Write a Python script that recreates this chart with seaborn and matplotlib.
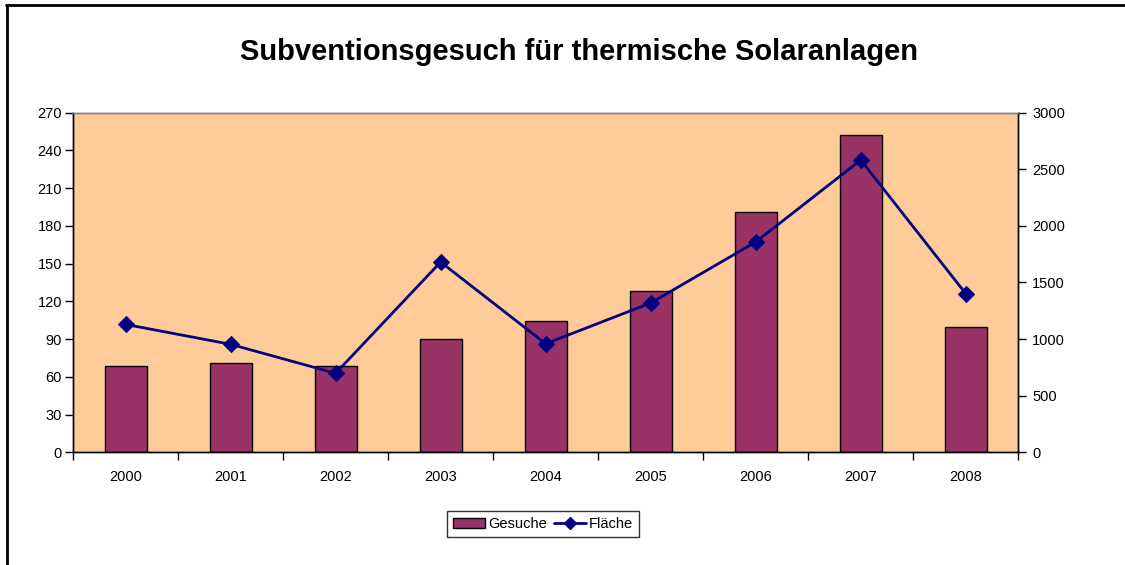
import numpy as np
import pandas as pd
import matplotlib
matplotlib.use("Agg")
import matplotlib.pyplot as plt
import seaborn as sns
from matplotlib.patches import Patch
from matplotlib.lines import Line2D

years = ["2000", "2001", "2002", "2003", "2004", "2005", "2006", "2007", "2008"]
gesuche = [69, 71, 69, 90, 104, 128, 191, 252, 100]
flaeche = [1130, 954, 698, 1681, 959, 1319, 1858, 2582, 1401]
left_ticks = [0, 30, 60, 90, 120, 150, 180, 210, 240, 270]
right_ticks = [0, 500, 1000, 1500, 2000, 2500, 3000]
title = "Subventionsgesuch für thermische Solaranlagen"

sns.set_theme(style="white")
plt.rcParams["font.family"] = ["Liberation Sans", "DejaVu Sans"]
plt.rcParams["text.color"] = "black"
plt.rcParams["xtick.color"] = "black"
plt.rcParams["ytick.color"] = "black"
plt.rcParams["axes.labelcolor"] = "black"

fig = plt.figure(figsize=(11.25, 5.65), dpi=100)
ax = fig.add_axes([73/1125, 1-452.3/565, (1018.3-73)/1125, (452.3-112.7)/565])
ax.set_facecolor("#FFCC99")

df = pd.DataFrame({"Jahr": years, "Gesuche": gesuche, "Fläche": flaeche})
sns.barplot(data=df, x="Jahr", y="Gesuche", ax=ax, color="#993366",
            saturation=1, width=0.4, edgecolor="black", linewidth=1.0)
ax.set_xlim(-0.5, len(years) - 0.5)
ax.set_ylim(0, 270)
ax.set_yticks(left_ticks)
ax.set_yticklabels([str(t) for t in left_ticks], fontsize=10.5)
ax.set_xlabel("")
ax.set_ylabel("")
ax.set_xticks(np.arange(-0.5, len(years), 1))
ax.set_xticklabels([])
ax.set_xticks(np.arange(len(years)), minor=True)
ax.set_xticklabels(years, minor=True, fontsize=10.5)
ax.tick_params(axis="x", which="major", direction="out", length=6, width=1, color="black", bottom=True)
ax.tick_params(axis="x", which="minor", length=0, pad=13, bottom=True, labelcolor="black")
ax.tick_params(axis="y", direction="out", length=6, width=1, color="black", left=True, pad=2,
               labelcolor="black")

ax2 = ax.twinx()
xs = np.arange(len(years))
sns.lineplot(x=xs, y=flaeche, ax=ax2, color="#000080", marker="D", markersize=8,
             markeredgecolor="#000080", linewidth=2)
ax2.set_ylim(0, 3000)
ax2.set_yticks(right_ticks)
ax2.set_yticklabels([str(t) for t in right_ticks], fontsize=10.5)
ax2.tick_params(axis="y", direction="out", length=6, width=1, color="black", right=True, pad=4,
                labelcolor="black")
ax2.set_ylabel("")

for a in (ax, ax2):
    for s in ("left", "bottom", "right"):
        a.spines[s].set_color("black")
        a.spines[s].set_linewidth(1)
    a.spines["top"].set_color("#808080")
    a.spines["top"].set_linewidth(1)

fig.text(579/1125, 1-52/565, title, ha="center", va="center", fontsize=21, fontweight="bold",
         color="black")

handles = [Patch(facecolor="#993366", edgecolor="black", label="Gesuche"),
           Line2D([0], [0], color="#000080", marker="D", markersize=6, linewidth=2, label="Fläche")]
leg = fig.legend(handles=handles, loc="center", bbox_to_anchor=(543/1125, 1-524/565), ncol=2,
                 frameon=True, fancybox=False, fontsize=10.5, handlelength=2.2, handletextpad=0.2,
                 columnspacing=0.5, borderpad=0.4)
leg.get_frame().set_edgecolor("black")
leg.get_frame().set_linewidth(1)

# figure border: left and top edges only (clipped on right/bottom in reference)
fig.add_artist(Line2D([7/1125, 7/1125], [0, 1-5/565], transform=fig.transFigure,
                      color="black", linewidth=2))
fig.add_artist(Line2D([6/1125, 1], [1-5/565, 1-5/565], transform=fig.transFigure,
                      color="black", linewidth=2))

fig.savefig("out.png", dpi=100)
